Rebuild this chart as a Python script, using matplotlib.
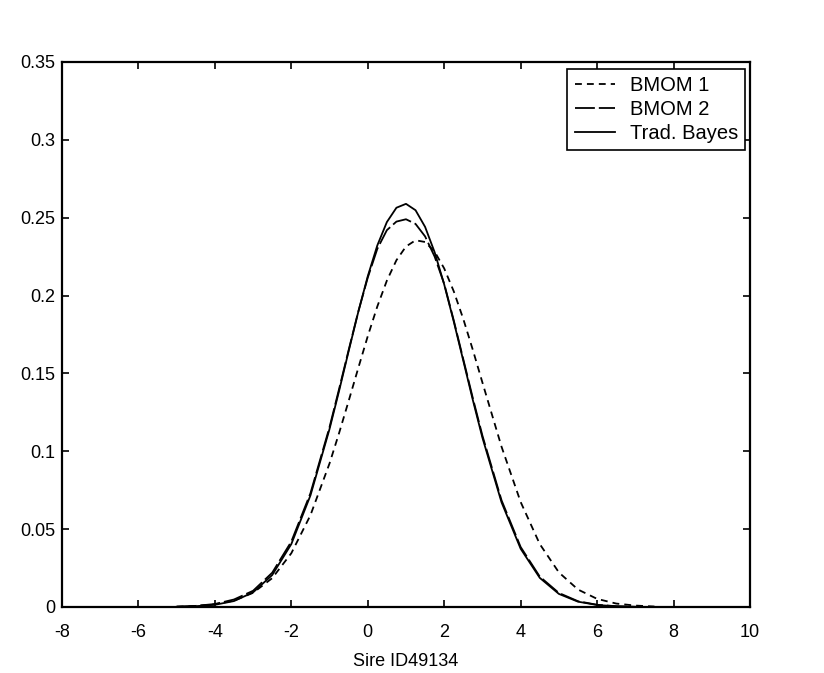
# =============================================================
# Posterior densities for sire ID49134: BMOM 1, BMOM 2, Trad. Bayes
# =============================================================

import matplotlib
matplotlib.use("Agg")
import matplotlib.pyplot as plt

# =================== DATA ===================
x_vals = [-5, -4.5, -4, -3.5, -3, -2.5, -2, -1.5, -1, -0.75, -0.5, -0.25,
          0, 0.25, 0.5, 0.75, 1, 1.25, 1.5, 1.75, 2, 2.25, 2.5, 2.75,
          3, 3.5, 4, 4.5, 5, 5.5, 6, 6.5, 7, 7.5]

bmom1 = [0.0002, 0.0006, 0.0017, 0.0041, 0.0091, 0.0185, 0.0345, 0.0589,
         0.0922, 0.1117, 0.1323, 0.1533, 0.1739, 0.1930, 0.2096, 0.2227,
         0.2315, 0.2355, 0.2344, 0.2282, 0.2174, 0.2027, 0.1849, 0.1650,
         0.1441, 0.1029, 0.0674, 0.0404, 0.0222, 0.0112, 0.0052, 0.0022,
         0.0009, 0.0003]

bmom2 = [0.0002, 0.0007, 0.0019, 0.0048, 0.0104, 0.0220, 0.0420, 0.0730,
         0.1155, 0.1400, 0.1650, 0.1895, 0.2115, 0.2300, 0.2420, 0.2475,
         0.2490, 0.2460, 0.2380, 0.2250, 0.2075, 0.1840, 0.1590, 0.1340,
         0.1100, 0.0685, 0.0385, 0.0195, 0.0090, 0.0037, 0.0014, 0.0005,
         0.0001, 0.0000]

trad_bayes = [0.0001, 0.0005, 0.0014, 0.0038, 0.0094, 0.0205, 0.0404, 0.0716,
              0.1143, 0.1388, 0.1643, 0.1893, 0.2124, 0.2322, 0.2472, 0.2564,
              0.2589, 0.2548, 0.2441, 0.2278, 0.2071, 0.1833, 0.1581, 0.1328,
              0.1087, 0.0672, 0.0374, 0.0187, 0.0084, 0.0034, 0.0013, 0.0004,
              0.0001, 0.0000]

x_ticks = [-8, -6, -4, -2, 0, 2, 4, 6, 8, 10]
y_ticks = [0, 0.05, 0.1, 0.15, 0.2, 0.25, 0.3, 0.35]
y_tick_labels = ["0", "0.05", "0.1", "0.15", "0.2", "0.25", "0.3", "0.35"]

# =================== STYLE ===================
plt.rcParams["font.family"] = ["Liberation Sans", "DejaVu Sans"]
plt.rcParams["axes.unicode_minus"] = False

fig = plt.figure(figsize=(8.24, 6.73), dpi=100)
ax = fig.add_axes([0.0752, 0.0981, 0.835, 0.8098])

# =================== CURVES ===================
ax.plot(x_vals, bmom1, color="black", lw=1.3, dashes=(3.8, 2.8), label="BMOM 1")
ax.plot(x_vals, bmom2, color="black", lw=1.3, dashes=(11, 2.2), label="BMOM 2")
ax.plot(x_vals, trad_bayes, color="black", lw=1.3, label="Trad. Bayes")

# =================== AXES ===================
ax.set_xlim(-8, 10)
ax.set_ylim(0, 0.35)
ax.set_xticks(x_ticks)
ax.set_xticklabels([str(t) for t in x_ticks])
ax.set_yticks(y_ticks)
ax.set_yticklabels(y_tick_labels)
ax.tick_params(direction="in", length=5, width=1.2, labelsize=13,
               top=True, right=True, colors="black")
ax.tick_params(axis="x", pad=12)
ax.tick_params(axis="y", pad=5)
for s in ax.spines.values():
    s.set_linewidth(1.6)

ax.set_xlabel("Sire ID49134", fontsize=13, labelpad=9)

leg = ax.legend(loc="upper right", bbox_to_anchor=(0.993, 0.988),
                borderaxespad=0, fontsize=14.5, frameon=True, fancybox=False,
                framealpha=1, edgecolor="black", handlelength=2.0,
                handletextpad=0.75, labelspacing=0.25, borderpad=0.35)
leg.get_frame().set_linewidth(1.2)

fig.savefig("out.png", dpi=100)
